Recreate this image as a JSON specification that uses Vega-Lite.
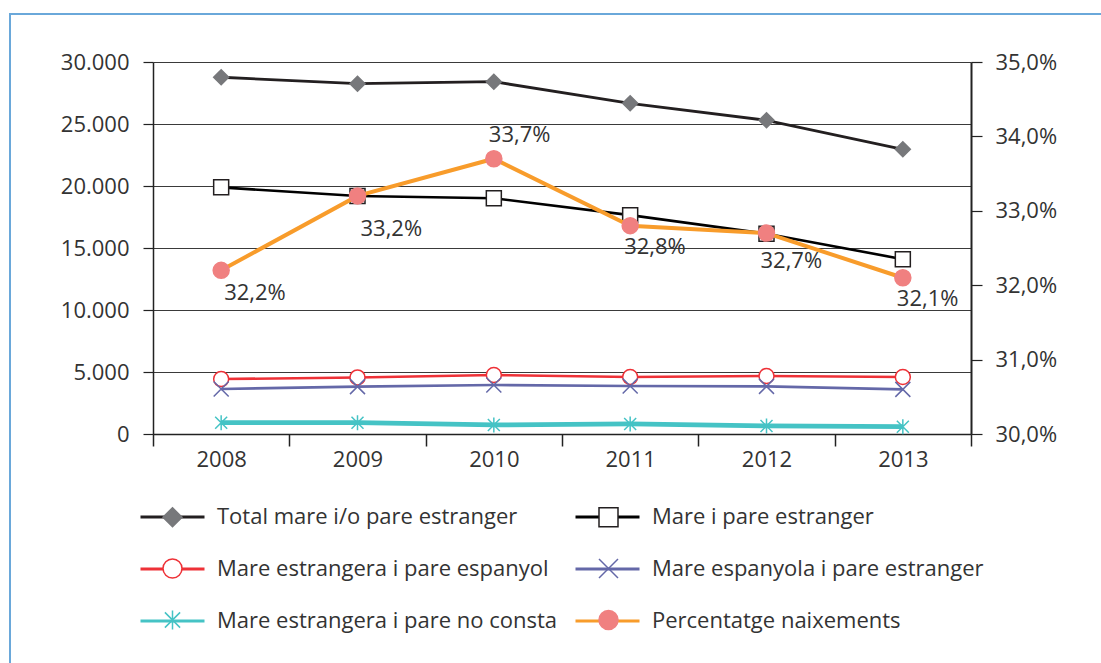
{
  "$schema": "https://vega.github.io/schema/vega-lite/v6.json",
  "width": 1094,
  "height": 652,
  "autosize": {"type": "none"},
  "padding": {"left": 10, "top": 14, "right": -3, "bottom": -3},
  "background": "white",
  "config": {
    "locale": {"number": {"decimal": ",", "thousands": ".", "grouping": [3], "currency": ["", " €"]}},
    "font": "Open Sans",
    "view": {"stroke": "#6aa8da", "strokeWidth": 2},
    "axis": {"labelFont": "Open Sans", "labelFontSize": 22, "labelColor": "#333333", "domainColor": "#222222", "tickColor": "#222222", "title": null}
  },
  "data": {"values": [
    {"year": "2008", "series": "Total mare i/o pare estranger", "value": 28770},
    {"year": "2009", "series": "Total mare i/o pare estranger", "value": 28250},
    {"year": "2010", "series": "Total mare i/o pare estranger", "value": 28410},
    {"year": "2011", "series": "Total mare i/o pare estranger", "value": 26670},
    {"year": "2012", "series": "Total mare i/o pare estranger", "value": 25300},
    {"year": "2013", "series": "Total mare i/o pare estranger", "value": 22960},
    {"year": "2008", "series": "Mare i pare estranger", "value": 19890},
    {"year": "2009", "series": "Mare i pare estranger", "value": 19190},
    {"year": "2010", "series": "Mare i pare estranger", "value": 19010},
    {"year": "2011", "series": "Mare i pare estranger", "value": 17650},
    {"year": "2012", "series": "Mare i pare estranger", "value": 16150},
    {"year": "2013", "series": "Mare i pare estranger", "value": 14100},
    {"year": "2008", "series": "Mare estrangera i pare espanyol", "value": 4430},
    {"year": "2009", "series": "Mare estrangera i pare espanyol", "value": 4560},
    {"year": "2010", "series": "Mare estrangera i pare espanyol", "value": 4760},
    {"year": "2011", "series": "Mare estrangera i pare espanyol", "value": 4600},
    {"year": "2012", "series": "Mare estrangera i pare espanyol", "value": 4680},
    {"year": "2013", "series": "Mare estrangera i pare espanyol", "value": 4600},
    {"year": "2008", "series": "Mare espanyola i pare estranger", "value": 3630},
    {"year": "2009", "series": "Mare espanyola i pare estranger", "value": 3820},
    {"year": "2010", "series": "Mare espanyola i pare estranger", "value": 3950},
    {"year": "2011", "series": "Mare espanyola i pare estranger", "value": 3870},
    {"year": "2012", "series": "Mare espanyola i pare estranger", "value": 3840},
    {"year": "2013", "series": "Mare espanyola i pare estranger", "value": 3600},
    {"year": "2008", "series": "Mare estrangera i pare no consta", "value": 910},
    {"year": "2009", "series": "Mare estrangera i pare no consta", "value": 910},
    {"year": "2010", "series": "Mare estrangera i pare no consta", "value": 730},
    {"year": "2011", "series": "Mare estrangera i pare no consta", "value": 810},
    {"year": "2012", "series": "Mare estrangera i pare no consta", "value": 650},
    {"year": "2013", "series": "Mare estrangera i pare no consta", "value": 590},
    {"year": "2008", "series": "Percentatge naixements", "value": 0.322},
    {"year": "2009", "series": "Percentatge naixements", "value": 0.332},
    {"year": "2010", "series": "Percentatge naixements", "value": 0.337},
    {"year": "2011", "series": "Percentatge naixements", "value": 0.328},
    {"year": "2012", "series": "Percentatge naixements", "value": 0.327},
    {"year": "2013", "series": "Percentatge naixements", "value": 0.321}
  ]},
  "encoding": {
    "x": {
      "field": "year", "type": "nominal",
      "scale": {"type": "band", "paddingInner": 0, "paddingOuter": 0, "range": [143, 961]},
      "axis": {"offset": -232, "tickBand": "extent", "labelAngle": 0, "tickSize": 12, "labelPadding": 3, "domainWidth": 1.5, "tickWidth": 1.5, "grid": false}
    }
  },
  "layer": [
    {
      "transform": [{"filter": "datum.series !== 'Percentatge naixements'"}],
      "encoding": {
        "y": {
          "field": "value", "type": "quantitative",
          "scale": {"domain": [0, 30000], "nice": false, "range": [420, 48]},
          "axis": {"orient": "left", "offset": -143, "values": [0, 5000, 10000, 15000, 20000, 25000, 30000], "format": ",d", "grid": true, "gridColor": "#3a3a3a", "gridWidth": 1.2, "tickSize": 10, "tickWidth": 1.2, "labelPadding": 14, "domainWidth": 1.5}
        }
      },
      "layer": [
        {
          "mark": {"type": "line"},
          "encoding": {
            "color": {
              "field": "series", "type": "nominal",
              "scale": {
                "domain": ["Total mare i/o pare estranger", "Mare i pare estranger", "Mare estrangera i pare espanyol", "Mare espanyola i pare estranger", "Mare estrangera i pare no consta", "Percentatge naixements"],
                "range": ["#231f20", "#000000", "#ee3137", "#6468a8", "#45c3c5", "#f89c2b"]
              },
              "legend": {
                "orient": "none", "direction": "horizontal", "legendX": 151.5, "legendY": 492, "columns": 2, "title": null, "padding": 0,
                "symbolType": "M-4,0H4", "symbolSize": 256, "symbolStrokeWidth": 3,
                "labelFont": "Open Sans", "labelFontSize": 22, "labelColor": "#333333", "labelOffset": 33.5, "labelLimit": 600,
                "columnPadding": 12, "rowPadding": 30
              }
            },
            "strokeWidth": {
              "field": "series", "type": "ordinal",
              "scale": {
                "type": "ordinal",
                "domain": ["Total mare i/o pare estranger", "Mare i pare estranger", "Mare estrangera i pare espanyol", "Mare espanyola i pare estranger", "Mare estrangera i pare no consta"],
                "range": [2.8, 2.6, 2.6, 2.6, 4.8]
              },
              "legend": null
            }
          }
        },
        {
          "mark": {"type": "point", "opacity": 1, "strokeWidth": 1.5, "size": 225},
          "encoding": {
            "shape": {
              "field": "series", "type": "nominal",
              "scale": {
                "domain": ["Percentatge naixements", "Mare estrangera i pare no consta", "Mare espanyola i pare estranger", "Mare estrangera i pare espanyol", "Mare i pare estranger", "Total mare i/o pare estranger"],
                "range": ["circle", "M0,-1V1M-0.8,-0.8L0.8,0.8M-0.8,0.8L0.8,-0.8", "M-1,-1L1,1M-1,1L1,-1", "circle", "square", "diamond"]
              },
              "legend": {
                "orient": "none", "direction": "horizontal", "legendX": 151.5, "legendY": 492, "columns": 2, "title": null, "padding": 0,
                "gridAlign": "all",
                "values": ["Total mare i/o pare estranger", "Mare i pare estranger", "Mare estrangera i pare espanyol", "Mare espanyola i pare estranger", "Mare estrangera i pare no consta", "Percentatge naixements"],
                "symbolSize": 361, "symbolStrokeWidth": 1.5,
                "labelFont": "Open Sans", "labelFontSize": 22, "labelColor": "#333333", "labelOpacity": 0, "labelOffset": 33.5, "labelLimit": 600,
                "columnPadding": 38, "rowPadding": 25.5
              }
            },
            "fill": {
              "field": "series", "type": "nominal",
              "scale": {
                "domain": ["Percentatge naixements", "Mare estrangera i pare no consta", "Mare espanyola i pare estranger", "Mare estrangera i pare espanyol", "Mare i pare estranger", "Total mare i/o pare estranger"],
                "range": ["#f08080", "transparent", "transparent", "#ffffff", "#ffffff", "#77787b"]
              }
            },
            "stroke": {
              "field": "series", "type": "nominal",
              "scale": {
                "domain": ["Percentatge naixements", "Mare estrangera i pare no consta", "Mare espanyola i pare estranger", "Mare estrangera i pare espanyol", "Mare i pare estranger", "Total mare i/o pare estranger"],
                "range": ["#f08080", "#45c3c5", "#6468a8", "#ee3137", "#231f20", "#77787b"]
              }
            }
          }
        }
      ]
    },
    {
      "transform": [{"filter": "datum.series === 'Percentatge naixements'"}],
      "encoding": {
        "y": {
          "field": "value", "type": "quantitative",
          "scale": {"domain": [0.30, 0.35], "nice": false, "zero": false, "range": [420, 48]},
          "axis": {"orient": "right", "offset": -133, "values": [0.30, 0.31, 0.32, 0.33, 0.34, 0.35], "format": ".1%", "grid": false, "tickSize": 11, "tickWidth": 1.2, "labelPadding": 13, "domainWidth": 2}
        }
      },
      "layer": [
        {
          "mark": {"type": "line", "strokeWidth": 4},
          "encoding": {
            "color": {"field": "series", "type": "nominal"}
          }
        },
        {
          "mark": {"type": "point", "opacity": 1, "strokeWidth": 1.5, "size": 256},
          "encoding": {
            "shape": {"field": "series", "type": "nominal"},
            "fill": {"field": "series", "type": "nominal"},
            "stroke": {"field": "series", "type": "nominal"}
          }
        },
        {
          "transform": [{"filter": "datum.year === '2010'"}],
          "mark": {"type": "text", "align": "left", "baseline": "middle", "dx": -5, "dy": -24, "fontSize": 22, "font": "Open Sans", "color": "#333333"},
          "encoding": {"text": {"field": "value", "type": "quantitative", "format": ".1%"}}
        },
        {
          "transform": [{"filter": "datum.year === '2008'"}],
          "mark": {"type": "text", "align": "left", "baseline": "middle", "dx": 3, "dy": 23, "fontSize": 22, "font": "Open Sans", "color": "#333333"},
          "encoding": {"text": {"field": "value", "type": "quantitative", "format": ".1%"}}
        },
        {
          "transform": [{"filter": "datum.year === '2009'"}],
          "mark": {"type": "text", "align": "left", "baseline": "middle", "dx": 3, "dy": 33, "fontSize": 22, "font": "Open Sans", "color": "#333333"},
          "encoding": {"text": {"field": "value", "type": "quantitative", "format": ".1%"}}
        },
        {
          "transform": [{"filter": "datum.year === '2011' || datum.year === '2013'"}],
          "mark": {"type": "text", "align": "left", "baseline": "middle", "dx": -6, "dy": 21, "fontSize": 22, "font": "Open Sans", "color": "#333333"},
          "encoding": {"text": {"field": "value", "type": "quantitative", "format": ".1%"}}
        },
        {
          "transform": [{"filter": "datum.year === '2012'"}],
          "mark": {"type": "text", "align": "left", "baseline": "middle", "dx": -6, "dy": 28, "fontSize": 22, "font": "Open Sans", "color": "#333333"},
          "encoding": {"text": {"field": "value", "type": "quantitative", "format": ".1%"}}
        }
      ]
    }
  ],
  "resolve": {"scale": {"y": "independent"}}
}
